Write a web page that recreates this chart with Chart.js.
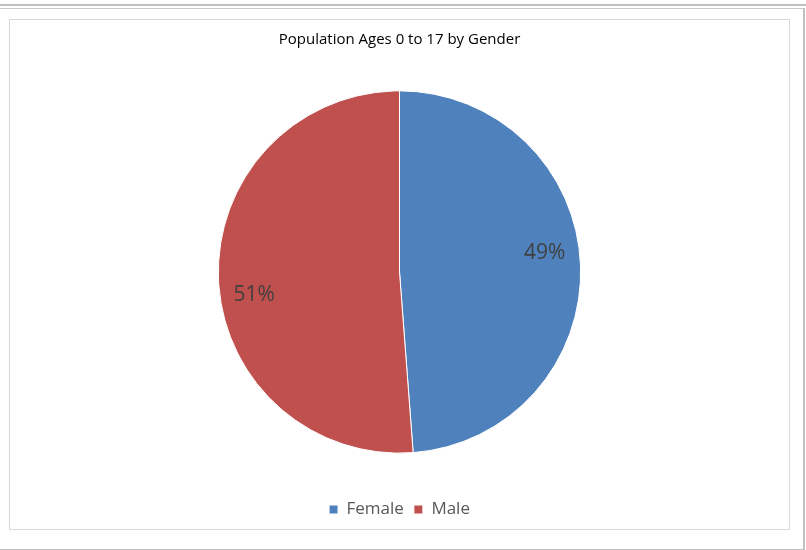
<!DOCTYPE html>
<html>
<head>
<meta charset="utf-8">
<script src="https://cdn.jsdelivr.net/npm/chart.js@4"></script>
<style>
  html, body { margin: 0; padding: 0; background: #fff; }
  body { width: 806px; height: 550px; position: relative; overflow: hidden; }
  #topline { position: absolute; left: 0; top: 4px; width: 806px; height: 2px; background: #c0c0c0; }
  #outer { position: absolute; left: -2px; top: 8px; width: 805px; height: 540px;
           border-top: 1px solid #c8c8c8; border-right: 2px solid #c0c0c0; border-bottom: 2px solid #c0c0c0; }
  #frame { position: absolute; left: 9px; top: 19px; width: 779px; height: 509px; border: 1px solid #d9d9d9; }
  #frame canvas { display: block; }
</style>
</head>
<body>
<div id="topline"></div>
<div id="outer"></div>
<div id="frame"><canvas id="pie"></canvas></div>
<script>
// Data
const categories = ['Female', 'Male'];
const shares = [48.8, 51.2];
const colors = ['#4F81BD', '#C0504D'];

// percent labels placed from each arc's own geometry
const sliceLabels = {
  id: 'sliceLabels',
  afterDatasetsDraw(chart) {
    const ctx = chart.ctx;
    const meta = chart.getDatasetMeta(0);
    const total = shares.reduce((a, b) => a + b, 0);
    ctx.save();
    ctx.font = '21px "Open Sans"';
    ctx.fillStyle = '#404040';
    ctx.textAlign = 'center';
    ctx.textBaseline = 'middle';
    meta.data.forEach((arc, i) => {
      const p = arc.getProps(['x', 'y', 'startAngle', 'endAngle', 'outerRadius'], true);
      const a = (p.startAngle + p.endAngle) / 2 - 6 * Math.PI / 180;
      const r = p.outerRadius * 0.81;
      const pct = Math.round(shares[i] / total * 100) + '%';
      ctx.fillText(pct, p.x + Math.cos(a) * r, p.y + Math.sin(a) * r + 2);
    });
    ctx.restore();
  }
};

new Chart(document.getElementById('pie'), {
  type: 'pie',
  data: {
    labels: categories,
    datasets: [{
      data: shares,
      backgroundColor: colors,
      borderColor: '#ffffff',
      borderWidth: 1,
      hoverOffset: 0,
      radius: '82.9%'
    }]
  },
  options: {
    responsive: true,
    maintainAspectRatio: false,
    animation: false,
    layout: { padding: { bottom: 1 } },
    plugins: {
      title: {
        display: true,
        text: 'Population Ages 0 to 17 by Gender',
        color: '#000000',
        font: { family: '"Open Sans"', size: 15, weight: 'normal' },
        padding: { top: 11, bottom: 4 }
      },
      legend: {
        position: 'bottom',
        labels: {
          color: '#595959',
          font: { family: '"Open Sans"', size: 17 },
          boxWidth: 9,
          boxHeight: 9,
          padding: 10
        }
      },
      tooltip: { enabled: false }
    }
  },
  plugins: [sliceLabels]
});
</script>
</body>
</html>
